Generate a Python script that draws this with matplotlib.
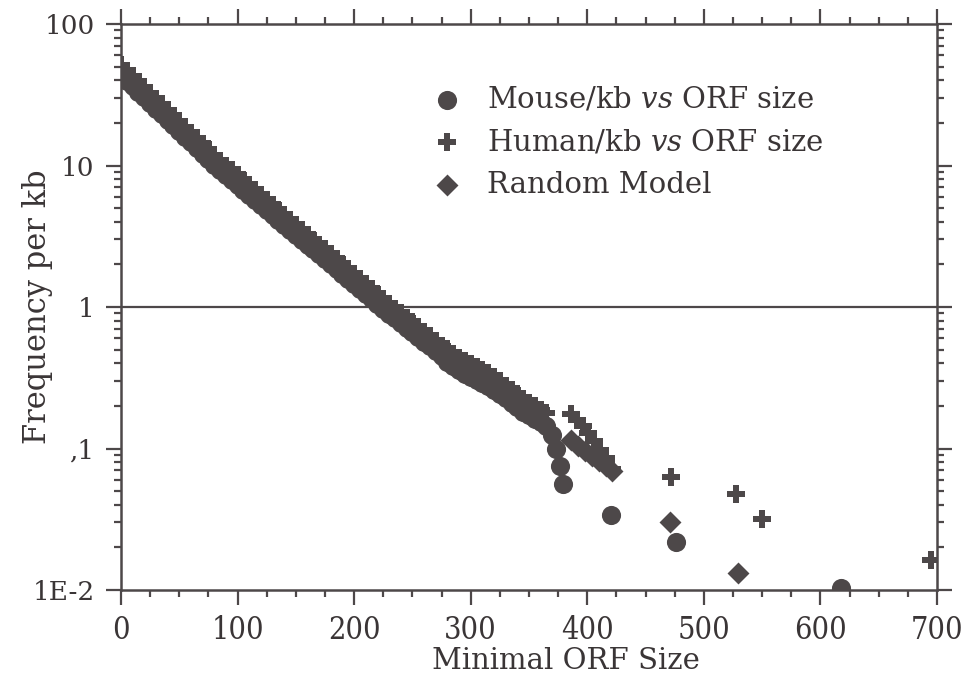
import numpy as np
import matplotlib
matplotlib.use('Agg')
import matplotlib.pyplot as plt
from matplotlib.ticker import MultipleLocator, LogLocator, NullFormatter

plt.rcParams['font.family'] = 'DejaVu Serif'
plt.rcParams['mathtext.fontset'] = 'dejavuserif'

INK = '#4d4849'
TXT = '#3a3536'

# Mouse ORFs per kb (circles)
mouse_x = [0, 5, 10, 15, 20, 25, 30, 35, 40, 45, 50, 55, 60, 65, 70, 75, 80, 85,
           90, 95, 100, 105, 110, 115, 120, 125, 130, 135, 140, 145, 150, 155,
           160, 165, 170, 175, 180, 185, 190, 195, 200, 205, 210, 215, 220, 225,
           230, 235, 240, 245, 250, 255, 260, 265, 270, 275, 280, 285, 290, 295,
           300, 305, 310, 315, 320, 325, 330, 335, 340, 345, 350, 355, 360, 365,
           370, 373, 377, 379, 420, 476, 618]
mouse_y = [43.6, 39.8, 36.4, 33.2, 30.3, 27.6, 25.2, 23.0, 21.0, 19.2, 17.5, 16.0,
           14.6, 13.3, 12.1, 11.1, 10.1, 9.23, 8.51, 7.85, 7.24, 6.68, 6.17, 5.69,
           5.25, 4.84, 4.47, 4.12, 3.80, 3.51, 3.24, 2.99, 2.76, 2.55, 2.35, 2.17,
           2.00, 1.85, 1.70, 1.57, 1.45, 1.34, 1.23, 1.14, 1.05, 0.968, 0.895,
           0.830, 0.769, 0.715, 0.662, 0.614, 0.569, 0.527, 0.490, 0.454, 0.411,
           0.381, 0.356, 0.338, 0.322, 0.306, 0.292, 0.278, 0.261, 0.243, 0.226,
           0.210, 0.196, 0.182, 0.172, 0.162, 0.153, 0.145,
           0.125, 0.100, 0.075, 0.056, 0.034, 0.022, 0.0103]

# Human ORFs per kb (crosses)
human_x = [0, 5, 10, 15, 20, 25, 30, 35, 40, 45, 50, 55, 60, 65, 70, 75, 80, 85,
           90, 95, 100, 105, 110, 115, 120, 125, 130, 135, 140, 145, 150, 155,
           160, 165, 170, 175, 180, 185, 190, 195, 200, 205, 210, 215, 220, 225,
           230, 235, 240, 245, 250, 255, 260, 265, 270, 275, 280, 285, 290, 295,
           300, 305, 310, 315, 320, 325, 330, 335, 340, 345, 350, 355, 360, 365,
           386, 391, 396, 401, 406, 411, 416, 421, 472, 528, 550, 695]
human_y = [51.3, 46.8, 42.8, 39.0, 35.6, 32.4, 29.6, 27.0, 24.7, 22.5, 20.6, 18.7,
           17.1, 15.6, 14.3, 13.0, 11.9, 10.8, 10.0, 9.23, 8.51, 7.85, 7.24, 6.68,
           6.17, 5.69, 5.25, 4.84, 4.47, 4.12, 3.80, 3.51, 3.24, 2.99, 2.76, 2.55,
           2.35, 2.17, 2.00, 1.85, 1.70, 1.57, 1.45, 1.34, 1.23, 1.14, 1.05, 0.975,
           0.904, 0.839, 0.778, 0.721, 0.668, 0.619, 0.575, 0.533, 0.506, 0.469,
           0.438, 0.416, 0.396, 0.377, 0.359, 0.342, 0.321, 0.299, 0.278, 0.259,
           0.241, 0.224, 0.211, 0.200, 0.188, 0.178,
           0.175, 0.160, 0.145, 0.128, 0.113, 0.098, 0.085, 0.072, 0.063, 0.048,
           0.032, 0.0163]

# Random model (diamonds)
random_x = [3, 13, 23, 33, 43, 53, 63, 73, 83, 93, 103, 113, 123, 133, 143, 153,
            163, 173, 183, 193, 203, 213, 223, 233, 243, 253, 263, 273, 283, 293,
            303, 313, 323, 333, 343, 353,
            386, 392, 398, 404, 410, 416, 421, 471, 529]
random_y = [44.8, 37.3, 31.0, 25.9, 21.6, 17.9, 15.0, 12.4, 10.4, 8.79, 7.48, 6.37,
            5.42, 4.61, 3.93, 3.34, 2.85, 2.43, 2.07, 1.76, 1.50, 1.27, 1.08, 0.927,
            0.798, 0.686, 0.589, 0.507, 0.436, 0.383, 0.347, 0.314, 0.277, 0.240,
            0.208, 0.184,
            0.115, 0.105, 0.096, 0.088, 0.081, 0.075, 0.069, 0.030, 0.0132]

y_ticks = [100, 10, 1, 0.1, 0.01]
y_tick_labels = ['100', '10', '1', ',1', '1E-2']
x_ticks = [0, 100, 200, 300, 400, 500, 600, 700]

fig = plt.figure(figsize=(9.68, 6.84), dpi=100)
ax = fig.add_axes([121 / 968, 1 - 590 / 684, 816 / 968, 566 / 684])

ax.axhline(1, color=INK, lw=1.6, zorder=1)

ax.scatter(mouse_x, mouse_y, s=190, marker='o', color=INK, lw=0, zorder=3,
           label=r'Mouse/kb $\mathit{vs}$ ORF size')
ax.scatter(human_x, human_y, s=170, marker='P', color=INK, lw=0, zorder=3,
           label=r'Human/kb $\mathit{vs}$ ORF size')
ax.scatter(random_x, random_y, s=125, marker='D', color=INK, lw=0, zorder=3,
           label='Random Model')

ax.set_yscale('log')
ax.set_xlim(0, 700)
ax.set_ylim(0.01, 100)

ax.set_xticks(x_ticks)
ax.xaxis.set_minor_locator(MultipleLocator(25))
ax.set_yticks(y_ticks)
ax.set_yticklabels(y_tick_labels)
ax.yaxis.set_minor_locator(LogLocator(base=10, subs=np.arange(2, 10)))
ax.yaxis.set_minor_formatter(NullFormatter())

for sp in ax.spines.values():
    sp.set_linewidth(1.8)
    sp.set_color(INK)

ax.tick_params(which='both', direction='out', top=True, right=True,
               color=INK, width=1.6, labelcolor=TXT)
ax.tick_params(which='major', length=11, pad=8)
ax.tick_params(which='minor', length=5)
ax.tick_params(axis='y', labelsize=19)
ax.tick_params(axis='x', labelsize=22, pad=7)
for lab in ax.get_xticklabels():
    lab.set_fontstretch('condensed')

ax.set_xlabel('Minimal ORF Size', fontsize=21, color=TXT)
ax.xaxis.set_label_coords(0.545, -0.10)
ax.set_ylabel('Frequency per kb', fontsize=22, color=TXT)
ax.yaxis.set_label_coords(-0.083, 0.5)

ax.legend(loc='upper left', bbox_to_anchor=(0.35, 0.912), frameon=False,
          fontsize=21, scatterpoints=1, handletextpad=0.35, labelspacing=0.5,
          borderaxespad=0, labelcolor=TXT)

fig.savefig('out.png', dpi=100)
